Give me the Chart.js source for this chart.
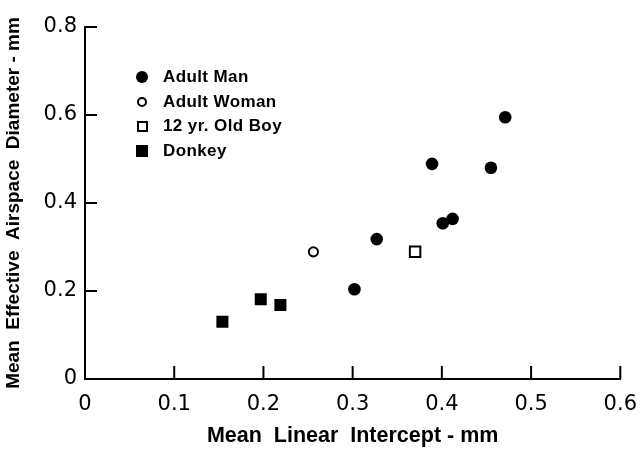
<!DOCTYPE html>
<html>
<head>
<meta charset="utf-8">
<script src="https://cdn.jsdelivr.net/npm/chart.js@4.4.0/dist/chart.umd.min.js"></script>
<style>
  body { margin: 0; background: #fff; }
  #wrap { position: relative; width: 642px; height: 450px; }
  #legend { position: absolute; left: 134px; top: 65px; font-family: "Liberation Sans", Arial, sans-serif; font-weight: bold; font-size: 17px; color: #000; }
  #legend .item { display: flex; align-items: center; height: 24.5px; letter-spacing: 0.4px; }
  #legend .mk { width: 16px; height: 16px; margin-right: 13px; display: flex; align-items: center; justify-content: center; }
  #legend .mk span { display: block; box-sizing: border-box; }
</style>
</head>
<body>
<div id="wrap">
  <canvas id="chart" width="642" height="450"></canvas>
  <div id="legend"></div>
</div>
<script>
// data
const manX = [0.302, 0.327, 0.389, 0.401, 0.412, 0.455, 0.471]
const manY = [0.204, 0.318, 0.489, 0.354, 0.364, 0.480, 0.595]
const womanX = [0.256]
const womanY = [0.289]
const boyX = [0.370]
const boyY = [0.289]
const donkeyX = [0.154, 0.197, 0.219]
const donkeyY = [0.130, 0.181, 0.168]

const seriesLabels = ["Adult Man", "Adult Woman", "12 yr. Old Boy", "Donkey"]
const xTicks = [0, 0.1, 0.2, 0.3, 0.4, 0.5, 0.6]
const yTicks = [0, 0.2, 0.4, 0.6, 0.8]

const toPoints = (xs, ys) => xs.map((x, i) => ({ x: x, y: ys[i] }))

const datasets = [
  { label: seriesLabels[0], data: toPoints(manX, manY), pointStyle: "circle", pointRadius: 6.3, backgroundColor: "#000", borderColor: "#000", borderWidth: 0 },
  { label: seriesLabels[1], data: toPoints(womanX, womanY), pointStyle: "circle", pointRadius: 4.6, backgroundColor: "#fff", borderColor: "#000", borderWidth: 2 },
  { label: seriesLabels[2], data: toPoints(boyX, boyY), pointStyle: "rect", pointRadius: 7.4, backgroundColor: "#fff", borderColor: "#000", borderWidth: 2 },
  { label: seriesLabels[3], data: toPoints(donkeyX, donkeyY), pointStyle: "rect", pointRadius: 8.5, backgroundColor: "#000", borderColor: "#000", borderWidth: 0 },
]

// short tick marks pointing into the plot
const innerTicks = {
  id: "innerTicks",
  afterDraw(chart) {
    const ctx = chart.ctx
    const xs = chart.scales.x
    const ys = chart.scales.y
    const area = chart.chartArea
    ctx.save()
    ctx.strokeStyle = "#000"
    ctx.lineWidth = 2
    ctx.beginPath()
    xTicks.forEach((v) => {
      const px = xs.getPixelForValue(v)
      ctx.moveTo(px, area.bottom)
      ctx.lineTo(px, area.bottom - 13)
    })
    yTicks.forEach((v) => {
      const py = ys.getPixelForValue(v)
      ctx.moveTo(area.left, py)
      ctx.lineTo(area.left + 12, py)
    })
    ctx.stroke()
    ctx.restore()
  },
}

const fmt = (v) => (v === 0 ? "0" : v.toFixed(1))

new Chart(document.getElementById("chart"), {
  type: "scatter",
  data: { datasets: datasets },
  options: {
    responsive: false,
    animation: false,
    layout: { padding: { top: 27, right: 18, left: 0, bottom: 0 } },
    plugins: { legend: { display: false }, tooltip: { enabled: false } },
    scales: {
      x: {
        type: "linear",
        min: 0,
        max: 0.6,
        afterBuildTicks: (s) => { s.ticks = xTicks.map((v) => ({ value: v })) },
        afterFit: (s) => { s.height = 71 },
        grid: { display: false },
        border: { display: true, color: "#000", width: 2 },
        ticks: { color: "#000", padding: 5, maxRotation: 0, font: { family: "DejaVu Sans", size: 21 }, callback: fmt },
        title: { display: true, text: "Mean  Linear  Intercept - mm", color: "#000", padding: { top: 0, bottom: 1 }, font: { family: "Liberation Sans", size: 21.5, weight: "bold" } },
      },
      y: {
        type: "linear",
        min: 0,
        max: 0.8,
        afterBuildTicks: (s) => { s.ticks = yTicks.map((v) => ({ value: v })) },
        afterFit: (s) => { s.width = 85 },
        grid: { display: false },
        border: { display: true, color: "#000", width: 2 },
        ticks: { color: "#000", padding: 0, font: { family: "DejaVu Sans", size: 21 }, callback: fmt },
        title: { display: true, text: "Mean  Effective  Airspace  Diameter - mm", color: "#000", padding: { top: 2, bottom: 0 }, font: { family: "Liberation Sans", size: 19, weight: "bold" } },
      },
    },
  },
  plugins: [innerTicks],
})

// legend in the plot corner
const legendMarks = [
  "width:12px;height:12px;border-radius:50%;background:#000",
  "width:10px;height:10px;border-radius:50%;border:2px solid #000",
  "width:11px;height:11px;border:2px solid #000",
  "width:12px;height:12px;background:#000",
]
document.getElementById("legend").innerHTML = seriesLabels
  .map((label, i) => `<div class="item"><div class="mk"><span style="${legendMarks[i]}"></span></div>${label}</div>`)
  .join("")
</script>
</body>
</html>
